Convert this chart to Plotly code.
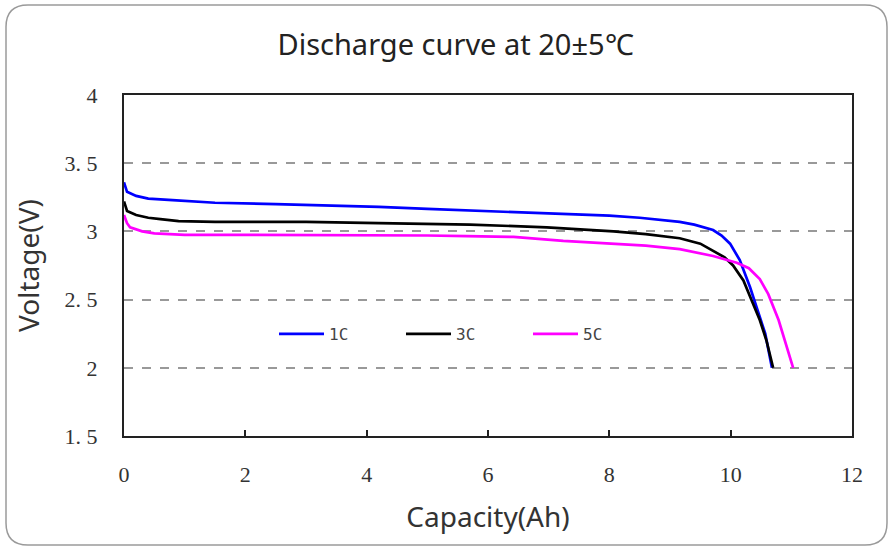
import plotly.graph_objects as go

# ---- data ----
cap_1c = [0, 0.05, 0.2, 0.4, 0.8, 1.5, 2.5, 3.0, 4.2, 5.0, 5.9, 7.0, 7.5, 8.0, 8.5, 9.16, 9.4, 9.71, 9.85, 9.99, 10.15, 10.32, 10.43, 10.57, 10.68]
volt_1c = [3.36, 3.29, 3.26, 3.24, 3.23, 3.21, 3.20, 3.195, 3.18, 3.165, 3.15, 3.135, 3.125, 3.115, 3.10, 3.07, 3.05, 3.01, 2.97, 2.91, 2.79, 2.59, 2.44, 2.25, 2.0]

cap_3c = [0, 0.05, 0.2, 0.4, 0.6, 0.9, 1.5, 2.0, 3.0, 4.2, 5.0, 5.7, 6.97, 8.07, 8.6, 9.16, 9.5, 9.71, 9.9, 10.04, 10.21, 10.35, 10.48, 10.59, 10.70]
volt_3c = [3.22, 3.15, 3.12, 3.10, 3.09, 3.075, 3.07, 3.07, 3.07, 3.06, 3.055, 3.05, 3.03, 3.0, 2.98, 2.95, 2.91, 2.86, 2.81, 2.75, 2.64, 2.49, 2.35, 2.20, 2.0]

cap_5c = [0, 0.05, 0.1, 0.3, 0.5, 1.0, 2.0, 3.0, 4.2, 5.0, 5.65, 6.42, 7.24, 8.07, 8.6, 9.16, 9.71, 10.10, 10.3, 10.48, 10.62, 10.79, 10.92, 11.03]
volt_5c = [3.12, 3.06, 3.03, 3.0, 2.985, 2.975, 2.975, 2.975, 2.975, 2.97, 2.965, 2.96, 2.93, 2.91, 2.895, 2.87, 2.82, 2.77, 2.73, 2.65, 2.54, 2.35, 2.17, 2.0]

series_names = ["1C", "3C", "5C"]
series_colors = ["#0000FF", "#000000", "#FF00FF"]

x_ticks = [0, 2, 4, 6, 8, 10, 12]
y_ticks = [1.5, 2, 2.5, 3, 3.5, 4]
y_tick_text = ["1. 5", "2", "2. 5", "3", "3. 5", "4"]

title_text = "Discharge curve at 20±5℃"
x_title = "Capacity(Ah)"
y_title = "Voltage(V)"

# ---- figure ----
fig = go.Figure()
for name, xs, ys, col in zip(series_names, [cap_1c, cap_3c, cap_5c],
                             [volt_1c, volt_3c, volt_5c], series_colors):
    fig.add_trace(go.Scatter(x=xs, y=ys, mode="lines", name=name,
                             line=dict(color=col, width=2.7)))

W, H = 895, 547
L, R, T, B = 124, 43, 95, 111
pw, ph = W - L - R, H - T - B

def px_x(p):
    return (p - L) / pw

def px_y(p):
    return (H - B - p) / ph

# rounded outer frame
x0, x1, y0, y1 = 6, 887, 5, 545
r = 22
path = (f"M{px_x(x0 + r)},{px_y(y0)} L{px_x(x1 - r)},{px_y(y0)} "
        f"Q{px_x(x1)},{px_y(y0)} {px_x(x1)},{px_y(y0 + r)} "
        f"L{px_x(x1)},{px_y(y1 - r)} Q{px_x(x1)},{px_y(y1)} {px_x(x1 - r)},{px_y(y1)} "
        f"L{px_x(x0 + r)},{px_y(y1)} Q{px_x(x0)},{px_y(y1)} {px_x(x0)},{px_y(y1 - r)} "
        f"L{px_x(x0)},{px_y(y0 + r)} Q{px_x(x0)},{px_y(y0)} {px_x(x0 + r)},{px_y(y0)} Z")

fig.update_layout(
    width=W, height=H,
    margin=dict(l=L, r=R, t=T, b=B, autoexpand=False),
    paper_bgcolor="white", plot_bgcolor="white",
    title=dict(text=title_text, x=0.5 + 8 / W, xanchor="center", y=1 - 45 / H, yanchor="middle",
               font=dict(family="Noto Sans", size=29, color="#222222")),
    shapes=[dict(type="path", xref="paper", yref="paper", path=path,
                 line=dict(color="#9a9a9a", width=1.5), layer="below")],
    legend=dict(orientation="h", x=px_x(274), y=px_y(334), xanchor="left", yanchor="middle",
                bgcolor="rgba(0,0,0,0)", font=dict(family="DejaVu Sans Mono", size=16, color="#444444"),
                itemwidth=45, entrywidth=67, entrywidthmode="pixels", tracegroupgap=0),
    showlegend=True,
)

fig.update_xaxes(
    range=[0, 12], tickvals=x_ticks, ticktext=[str(v) for v in x_ticks],
    ticks="inside", ticklen=6, tickwidth=1.5, tickcolor="#222222",
    showgrid=False, zeroline=False,
    showline=True, linecolor="#222222", linewidth=2, mirror=True,
    tickfont=dict(family="Liberation Serif", size=22, color="#333333"),
    ticklabelstandoff=18,
    title=dict(text=x_title, font=dict(family="Noto Sans", size=28, color="#333333"), standoff=21),
)
fig.update_yaxes(
    range=[1.5, 4], tickvals=y_ticks, ticktext=y_tick_text,
    ticks="", showgrid=True, gridcolor="#999999", griddash="dash", gridwidth=1.5,
    zeroline=False,
    showline=True, linecolor="#222222", linewidth=2, mirror=True,
    tickfont=dict(family="Liberation Serif", size=22, color="#333333"),
    ticklabelstandoff=20,
    title=dict(text=y_title, font=dict(family="Noto Sans", size=28, color="#333333"), standoff=17),
)

fig.write_html("out.html", config={"displayModeBar": False},
               post_script="document.body.style.margin='0';")
